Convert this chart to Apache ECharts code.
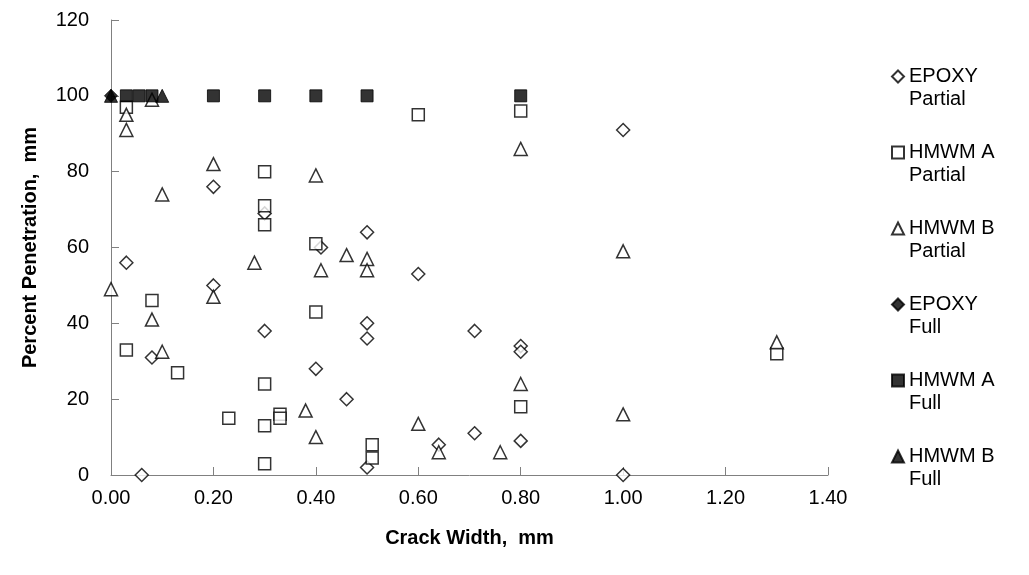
<!DOCTYPE html>
<html>
<head>
<meta charset="utf-8">
<script src="https://cdn.jsdelivr.net/npm/echarts@6/dist/echarts.min.js"></script>
<style>
  html, body { margin: 0; padding: 0; background: #fff; }
  #chart { width: 1029px; height: 575px; }
</style>
</head>
<body>
<div id="chart"></div>
<script>
var chart = echarts.init(document.getElementById('chart'));

// [crack width mm, penetration]
var epoxyPartial = [
    [0.06, 0], [0.03, 56], [0.08, 31], [0.20, 76], [0.20, 50], [0.30, 38], [0.30, 69],
    [0.40, 28], [0.41, 60], [0.46, 20], [0.50, 64], [0.50, 40], [0.50, 36], [0.50, 2],
    [0.60, 53], [0.64, 8], [0.71, 38], [0.71, 11], [0.80, 34], [0.80, 32.5], [0.80, 9],
    [1.00, 0], [1.00, 91]
];
var hmwmAPartial = [
    [0.03, 97], [0.03, 33], [0.08, 46], [0.13, 27], [0.23, 15], [0.30, 80], [0.30, 71],
    [0.30, 66], [0.30, 24], [0.30, 13], [0.30, 3], [0.33, 16], [0.33, 15], [0.40, 61],
    [0.40, 43], [0.51, 8], [0.51, 4.5], [0.60, 95], [0.80, 96], [0.80, 18], [1.30, 32]
];
var hmwmBPartial = [
    [0.00, 49], [0.03, 95], [0.03, 91], [0.08, 99], [0.08, 41], [0.10, 74], [0.10, 32.5],
    [0.20, 82], [0.20, 47], [0.28, 56], [0.38, 17], [0.40, 79], [0.40, 10], [0.41, 54],
    [0.46, 58], [0.50, 57], [0.50, 54], [0.60, 13.5], [0.64, 6], [0.76, 6], [0.80, 86],
    [0.80, 24], [1.00, 59], [1.00, 16], [1.30, 35]
];
var epoxyFull = [[0.00, 100]];
var hmwmAFull = [[0.03, 100], [0.055, 100], [0.08, 100], [0.20, 100], [0.30, 100],
    [0.40, 100], [0.50, 100], [0.80, 100]];
var hmwmBFull = [[0.00, 100], [0.10, 100]];

function openSeries(name, symbol, size, data) {
    return {
        name: name, type: 'scatter', symbol: symbol, symbolSize: size, data: data,
        itemStyle: { color: '#fff', borderColor: '#000', borderWidth: 1.5 },
        emphasis: { disabled: true }
    };
}
function fullSeries(name, symbol, size, data) {
    return {
        name: name, type: 'scatter', symbol: symbol, symbolSize: size, data: data,
        itemStyle: { color: '#000', borderColor: '#000', borderWidth: 1 },
        emphasis: { disabled: true }
    };
}

var font = 'Liberation Sans, Arial, sans-serif';

chart.setOption({
    animation: false,
    grid: { left: 111, right: 201, top: 20, bottom: 100 },
    legend: {
        orient: 'vertical',
        left: 886, top: 37,
        itemWidth: 12, itemHeight: 12,
        itemGap: 7,
        selectedMode: false,
        formatter: function (n) {
            // blank first line keeps the symbol level with the first text line
            var i = n.lastIndexOf(' ');
            return '\u00a0\n' + n.slice(0, i) + '\n' + n.slice(i + 1);
        },
        textStyle: { fontFamily: font, fontSize: 20, color: '#000', lineHeight: 23 }
    },
    xAxis: {
        type: 'value', min: 0, max: 1.4, interval: 0.2,
        name: 'Crack Width,  mm', nameLocation: 'middle', nameGap: 53,
        nameTextStyle: { fontFamily: font, fontSize: 20, fontWeight: 'bold', color: '#000' },
        axisLine: { show: true, lineStyle: { color: '#808080', width: 1 } },
        axisTick: { show: true, inside: true, length: 8, lineStyle: { color: '#808080' } },
        axisLabel: { fontFamily: font, fontSize: 20, color: '#000', margin: 13,
            formatter: function (v) { return v.toFixed(2); } },
        splitLine: { show: false }
    },
    yAxis: {
        type: 'value', min: 0, max: 120, interval: 20,
        name: 'Percent Penetration,  mm', nameLocation: 'middle', nameGap: 71,
        nameTextStyle: { fontFamily: font, fontSize: 20, fontWeight: 'bold', color: '#000' },
        axisLine: { show: true, lineStyle: { color: '#808080', width: 1 } },
        axisTick: { show: true, inside: true, length: 8, lineStyle: { color: '#808080' } },
        axisLabel: { fontFamily: font, fontSize: 20, color: '#000', margin: 22 },
        splitLine: { show: false }
    },
    series: [
        openSeries('EPOXY Partial', 'diamond', 13, epoxyPartial),
        openSeries('HMWM A Partial', 'rect', 12, hmwmAPartial),
        openSeries('HMWM B Partial', 'triangle', 13, hmwmBPartial),
        fullSeries('EPOXY Full', 'diamond', 13, epoxyFull),
        fullSeries('HMWM A Full', 'rect', 12, hmwmAFull),
        fullSeries('HMWM B Full', 'triangle', 13, hmwmBFull)
    ]
});
</script>
</body>
</html>
